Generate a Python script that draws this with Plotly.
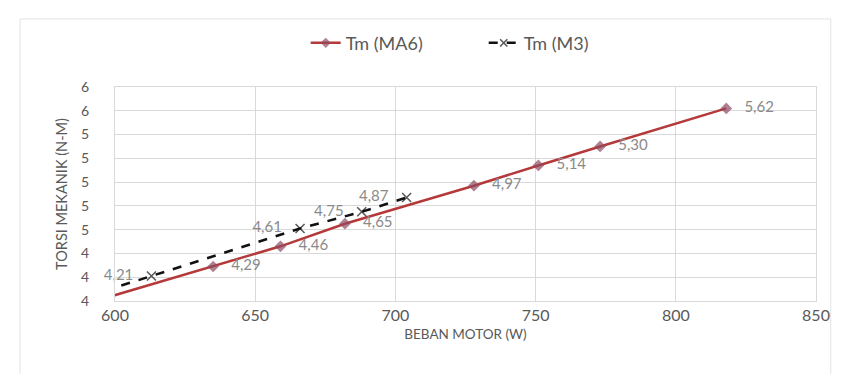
import plotly.graph_objects as go

# Data (BEBAN MOTOR in W, torque in N-M)
ma6_x = [590, 635, 659, 682, 728, 751, 773, 818]
ma6_y = [3.98, 4.29, 4.46, 4.65, 4.97, 5.14, 5.30, 5.62]
ma6_show_label = [False, True, True, True, True, True, True, True]

m3_x = [590, 613, 666, 688, 704]
m3_y = [4.04, 4.21, 4.61, 4.75, 4.87]
m3_show_label = [False, True, True, True, True]

x_ticks = [600, 650, 700, 750, 800, 850]

def fmt(v, show, left=False):
    if not show:
        return ""
    s = ("%.2f" % v).replace(".", ",")
    return s + "   " if left else "   " + s

GRAY = "#8a8a8a"
FONT = "Lato, Open Sans, sans-serif"

fig = go.Figure()
fig.add_trace(go.Scatter(
    x=ma6_x, y=ma6_y, name="Tm (MA6)", mode="lines+markers+text",
    line=dict(color="#b5393a", width=2.5),
    marker=dict(symbol="diamond", size=[9 if s else 0 for s in ma6_show_label],
                color="#8e4a62", line=dict(width=0)),
    text=[fmt(v, s) for v, s in zip(ma6_y, ma6_show_label)],
    textposition="middle right",
    textfont=dict(size=15, color=GRAY, family=FONT),
    cliponaxis=True,
))
fig.add_trace(go.Scatter(
    x=m3_x, y=m3_y, name="Tm (M3)", mode="lines+markers+text",
    line=dict(color="#111111", width=2.5, dash="dash"),
    marker=dict(symbol="x-thin", size=[9 if s else 0 for s in m3_show_label],
                color="#111111", line=dict(width=1.5, color="#111111")),
    text=[fmt(v, s, left=True) for v, s in zip(m3_y, m3_show_label)],
    textposition="middle left",
    textfont=dict(size=15, color=GRAY, family=FONT),
    cliponaxis=False,
))

fig.update_layout(
    width=841, height=374,
    margin=dict(l=107, r=33, t=79, b=81, autoexpand=False),
    paper_bgcolor="white", plot_bgcolor="white",
    font=dict(family=FONT, color="#595959", size=13),
    showlegend=True,
    legend=dict(orientation="h", xref="container", yref="container",
                x=0.354, xanchor="left", y=0.906, yanchor="middle",
                font=dict(size=18, color="#595959"), entrywidth=133,
                entrywidthmode="pixels"),
    xaxis=dict(range=[600, 850], tickvals=x_ticks, showgrid=True, gridcolor="#d9d9d9",
               gridwidth=1, zeroline=False, showline=True, linecolor="#d9d9d9", mirror=True,
               ticks="", tickfont=dict(size=16, color="#595959"), automargin=False,
               title=dict(text="BEBAN MOTOR (W)", font=dict(size=13.5, color="#595959"), standoff=6)),
    yaxis=dict(range=[4.0, 5.8], dtick=0.2, tick0=4.0, tickformat=".0f", showgrid=True,
               gridcolor="#d9d9d9", gridwidth=1, zeroline=False, showline=True,
               linecolor="#d9d9d9", mirror=True, ticks="", ticklabelstandoff=22,
               tickfont=dict(size=14, color="#595959"), automargin=False,
               title=dict(text="TORSI MEKANIK (N-M)", font=dict(size=14.5, color="#595959"), standoff=10)),
    shapes=[dict(type="rect", xref="paper", yref="paper", x0=-0.1355, x1=1.021,
                 y0=-0.36, y1=1.318, line=dict(color="#e3e3e3", width=1), layer="below")],
)

fig.write_html("out.html")
